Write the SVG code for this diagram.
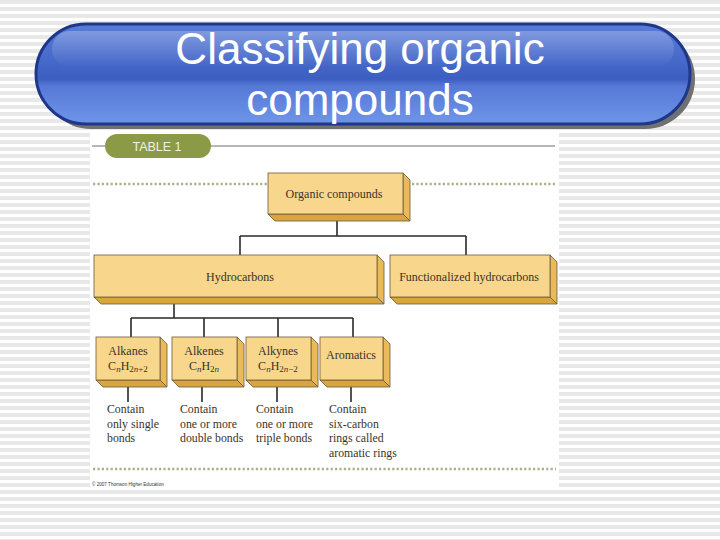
<svg xmlns="http://www.w3.org/2000/svg" width="720" height="540" viewBox="0 0 720 540">
<defs>
<pattern id="stripes" width="8" height="7" patternUnits="userSpaceOnUse">
<rect width="8" height="7" fill="#ffffff"/>
<rect y="0" width="8" height="4" fill="#e8e8e8"/>
</pattern>
<linearGradient id="pillg" x1="0" y1="0" x2="0" y2="1">
<stop offset="0" stop-color="#587cd8"/>
<stop offset="0.3" stop-color="#4a6ccc"/>
<stop offset="0.55" stop-color="#3c5ec0"/>
<stop offset="0.62" stop-color="#5679d6"/>
<stop offset="1" stop-color="#6f95ea"/>
</linearGradient>
<linearGradient id="gloss" x1="0" y1="0" x2="0" y2="1">
<stop offset="0" stop-color="#ffffff" stop-opacity="0.25"/>
<stop offset="1" stop-color="#ffffff" stop-opacity="0"/>
</linearGradient>
<style>
.front{fill:#f8d68c;stroke:#6b5a3a;stroke-width:0.8}
.side{fill:#e9b95a;stroke:#6b5a3a;stroke-width:0.8}
.bot{fill:#d8a53e;stroke:#6b5a3a;stroke-width:0.8}
.lbl{font-family:"Liberation Serif","Times New Roman",serif;font-size:12px;fill:#3a3328}
.desc{font-family:"Liberation Serif","Times New Roman",serif;font-size:11.8px;fill:#3a3328}
.conn{stroke:#2a2a2a;stroke-width:1.6;fill:none}
.dots{stroke:#a9b28a;stroke-width:2.5;stroke-dasharray:2.2 2.2;fill:none}
.title{font-family:"Liberation Sans",Arial,sans-serif;font-size:44px;fill:#ffffff;text-anchor:middle}
</style>
</defs>
<rect width="720" height="540" fill="url(#stripes)"/>
<rect x="90" y="130" width="469" height="358" fill="#ffffff"/>
<g id="title">
<rect x="41" y="29" width="654" height="100" rx="50" fill="#707070"/>
<rect x="36" y="24" width="654" height="100" rx="50" fill="url(#pillg)" stroke="#1e378a" stroke-width="3"/>
<rect x="52" y="31" width="622" height="36" rx="18" fill="url(#gloss)"/>
<text class="title" x="360" y="64">Classifying organic</text>
<text class="title" x="360" y="115">compounds</text>
</g>
<g id="header">
<line x1="92" y1="146" x2="555" y2="146" stroke="#6e6e6e" stroke-width="1"/>
<rect x="105" y="134" width="106" height="24" rx="12" fill="#8b9a47"/>
<text x="157" y="150.5" text-anchor="middle" font-family="'Liberation Sans',Arial,sans-serif" font-size="12.5" fill="#f2f2e4">TABLE 1</text>
<line class="dots" x1="93" y1="184" x2="268" y2="184"/>
<line class="dots" x1="412" y1="184" x2="556" y2="184"/>
<line class="dots" x1="93" y1="469" x2="556" y2="469"/>
<text x="92" y="485.5" font-family="'Liberation Sans',Arial,sans-serif" font-size="4.6" fill="#333">© 2007 Thomson Higher Education</text>
</g>
<g id="connectors">
<path class="conn" d="M337 221V236M240 236H466M240 236V255M466 236V255"/>
<path class="conn" d="M174 303V318M131 318H353M131 318V337M204 318V337M278 318V337M353 318V337"/>
<path class="conn" d="M128 387V402M202 387V402M277 387V402M351 387V402"/>
</g>
<g id="organic">
<polygon class="side" points="403,173 410,180 410,221 403,214"/>
<polygon class="bot" points="268,214 403,214 410,221 275,221"/>
<rect class="front" x="268" y="173" width="135" height="41"/>
<text class="lbl" x="334" y="198" text-anchor="middle">Organic compounds</text>
</g>
<g id="hydrocarbons">
<polygon class="side" points="377,255 384,262 384,304 377,297"/>
<polygon class="bot" points="94,297 377,297 384,304 101,304"/>
<rect class="front" x="94" y="255" width="283" height="42"/>
<text class="lbl" x="240" y="281" text-anchor="middle">Hydrocarbons</text>
</g>
<g id="functionalized">
<polygon class="side" points="550,255 557,262 557,304 550,297"/>
<polygon class="bot" points="390,297 550,297 557,304 397,304"/>
<rect class="front" x="390" y="255" width="160" height="42"/>
<text class="lbl" x="469" y="281" text-anchor="middle">Functionalized hydrocarbons</text>
</g>
<g id="alkanes">
<polygon class="side" points="160,337 167,344 167,387 160,380"/>
<polygon class="bot" points="96,380 160,380 167,387 103,387"/>
<rect class="front" x="96" y="337" width="64" height="43"/>
<text class="lbl" x="128" y="355" text-anchor="middle">Alkanes</text>
<text class="lbl" x="128" y="370" text-anchor="middle">C<tspan font-style="italic" font-size="9" dy="2">n</tspan><tspan dy="-2">H</tspan><tspan font-size="9" dy="2">2<tspan font-style="italic">n</tspan>+2</tspan></text>
<text class="desc" x="107" y="413">Contain</text>
<text class="desc" x="107" y="428">only single</text>
<text class="desc" x="107" y="442">bonds</text>
</g>
<g id="alkenes">
<polygon class="side" points="237,337 244,344 244,387 237,380"/>
<polygon class="bot" points="172,380 237,380 244,387 179,387"/>
<rect class="front" x="172" y="337" width="65" height="43"/>
<text class="lbl" x="204" y="355" text-anchor="middle">Alkenes</text>
<text class="lbl" x="204" y="370" text-anchor="middle">C<tspan font-style="italic" font-size="9" dy="2">n</tspan><tspan dy="-2">H</tspan><tspan font-size="9" dy="2">2<tspan font-style="italic">n</tspan></tspan></text>
<text class="desc" x="180" y="413">Contain</text>
<text class="desc" x="180" y="428">one or more</text>
<text class="desc" x="180" y="442">double bonds</text>
</g>
<g id="alkynes">
<polygon class="side" points="311,337 318,344 318,387 311,380"/>
<polygon class="bot" points="246,380 311,380 318,387 253,387"/>
<rect class="front" x="246" y="337" width="65" height="43"/>
<text class="lbl" x="278" y="355" text-anchor="middle">Alkynes</text>
<text class="lbl" x="278" y="370" text-anchor="middle">C<tspan font-style="italic" font-size="9" dy="2">n</tspan><tspan dy="-2">H</tspan><tspan font-size="9" dy="2">2<tspan font-style="italic">n</tspan>−2</tspan></text>
<text class="desc" x="256" y="413">Contain</text>
<text class="desc" x="256" y="428">one or more</text>
<text class="desc" x="256" y="442">triple bonds</text>
</g>
<g id="aromatics">
<polygon class="side" points="383,337 390,344 390,387 383,380"/>
<polygon class="bot" points="320,380 383,380 390,387 327,387"/>
<rect class="front" x="320" y="337" width="63" height="43"/>
<text class="lbl" x="351" y="359" text-anchor="middle">Aromatics</text>
<text class="desc" x="329" y="413">Contain</text>
<text class="desc" x="329" y="428">six-carbon</text>
<text class="desc" x="329" y="442">rings called</text>
<text class="desc" x="329" y="457">aromatic rings</text>
</g>
</svg>
